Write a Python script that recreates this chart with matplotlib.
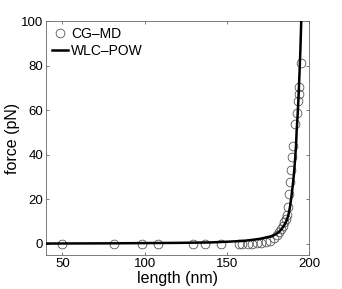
import numpy as np;
import matplotlib
matplotlib.use('Agg');
import matplotlib.pyplot as plt

# CG-MD samples
md_len = [49.8, 81.6, 98.4, 107.9, 129.7, 136.8, 146.6, 157.7, 159.5, 163.1,
          165.5, 168.2, 170.8, 173.6, 176.3, 178.9, 180.4, 181.8, 183.0, 184.0,
          185.0, 185.8, 186.4, 187.0, 187.8, 188.5, 189.0, 189.4, 190.0, 191.6,
          192.5, 193.1, 193.9, 194.1, 195.1];
md_force = [0, 0, 0, 0, 0, 0, 0, -0.3, 0, 0.1,
            0.1, 0.3, 0.3, 0.6, 1.35, 2.6, 3.9, 5.1, 6.6, 8.1,
            9.6, 11.1, 13.1, 16.7, 22.4, 27.9, 33.3, 38.9, 43.8, 53.6,
            58.9, 64.0, 67.4, 70.4, 81.4];

# WLC-POW fit curve
wlc_len = [40, 80, 120, 140, 150, 160, 165, 170, 175, 178, 180, 182, 183.5,
           185, 186.4, 187.5, 188.4, 189.2, 190, 190.8, 191.5, 192.1, 192.5,
           193.1, 193.7, 194.3, 194.8, 195.3];
wlc_force = [0.1, 0.2, 0.4, 0.6, 0.9, 1.3, 1.7, 2.2, 3.0, 3.6, 4.4, 5.5, 6.8,
             8.4, 10.4, 13.0, 16.4, 20.5, 25.4, 31.0, 37.4, 44.0, 50.9,
             58.0, 67.0, 78.0, 88.0, 100.5];

xticks = [50, 100, 150, 200];
yticks = [0, 20, 40, 60, 80, 100];


def run():
    plt.rcParams['font.family'] = ['Liberation Sans', 'DejaVu Sans'];
    fig = plt.figure(figsize=(3.42, 2.89), dpi=100);
    ax = fig.add_axes([0.1345, 0.118, 0.769, 0.809]);

    ax.plot(md_len, md_force, 'o', ms=6.3, mfc='none', mec='#555555',
            mew=0.6, label='CG\u2013MD', zorder=2);
    ax.plot(wlc_len, wlc_force, '-', color='black', lw=1.8,
            label='WLC\u2013POW', zorder=3);

    ax.set_xlim(40, 200);
    ax.set_ylim(-5, 100);
    ax.set_xticks(xticks);
    ax.set_yticks(yticks);
    ax.tick_params(direction='in', top=True, right=True, length=2.5,
                   width=0.5, labelsize=9.5, pad=2, color='#444444');
    for s in ax.spines.values():
        s.set_linewidth(0.6);
        s.set_color('#666666');

    ax.set_xlabel('length (nm)', fontsize=11.5, labelpad=1);
    ax.set_ylabel('force (pN)', fontsize=11.5, labelpad=1);

    ax.legend(loc='upper left', frameon=False, fontsize=10, handlelength=1.2,
              handletextpad=0.2, borderaxespad=0.2, labelspacing=0.25,
              borderpad=0.2);

    fig.savefig('out.png', dpi=100);


if __name__ == '__main__':
    run();
